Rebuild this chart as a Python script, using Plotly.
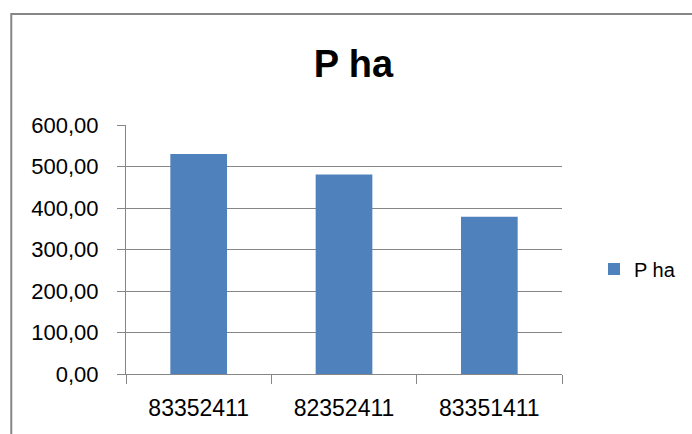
import plotly.graph_objects as go

# Series data
categories = ["83352411", "82352411", "83351411"]
p_ha = [530, 481, 379]
series_name = "P ha"
y_ticks = [0, 100, 200, 300, 400, 500, 600]
y_tick_labels = ["0,00", "100,00", "200,00", "300,00", "400,00", "500,00", "600,00"]

W, H = 692, 434
ML, MR, MT, MB = 126, 129, 125, 60
plot_w = W - ML - MR
plot_h = H - MT - MB

GRID = "#868686"
BAR = "#4F81BD"
FONT = "Liberation Sans, Arial, sans-serif"

fig = go.Figure(
    go.Bar(
        x=categories,
        y=p_ha,
        name=series_name,
        marker=dict(color=BAR, line=dict(width=0)),
        showlegend=True,
    )
)


def px_x(px):
    return (px - ML) / plot_w


def px_y(py):
    return (H - MB - py) / plot_h


fig.update_layout(
    width=W,
    height=H,
    margin=dict(l=ML, r=MR, t=MT, b=MB),
    paper_bgcolor="white",
    plot_bgcolor="white",
    bargap=0.61,
    title=dict(
        text="<b>P ha</b>",
        font=dict(family=FONT, size=38, color="black"),
        x=361 / W,
        xanchor="center",
        xref="paper",
        yref="container",
        y=1 - 64 / H,
        yanchor="middle",
    ),
    legend=dict(
        x=px_x(594),
        xanchor="left",
        y=px_y(269),
        yanchor="middle",
        font=dict(family=FONT, size=20, color="black"),
        bgcolor="rgba(0,0,0,0)",
    ),
    xaxis=dict(
        type="category",
        showline=True,
        linecolor=GRID,
        linewidth=1,
        ticks="outside",
        tickson="boundaries",
        ticklen=9,
        tickcolor=GRID,
        tickwidth=1,
        showgrid=False,
        tickfont=dict(family=FONT, size=23, color="black"),
        ticklabelstandoff=13,
    ),
    yaxis=dict(
        range=[0, 600],
        tickvals=y_ticks,
        ticktext=y_tick_labels,
        showline=True,
        linecolor=GRID,
        linewidth=1,
        ticks="outside",
        ticklen=8,
        tickcolor=GRID,
        tickwidth=1,
        showgrid=True,
        gridcolor=GRID,
        gridwidth=1,
        zeroline=False,
        tickfont=dict(family=FONT, size=22, color="black"),
        ticklabelstandoff=14,
    ),
    shapes=[
        # chart-area frame (left and top edges visible)
        dict(
            type="rect",
            xref="paper",
            yref="paper",
            x0=px_x(11),
            x1=px_x(720),
            y0=px_y(460),
            y1=px_y(14),
            line=dict(color=GRID, width=2),
            fillcolor="rgba(0,0,0,0)",
            layer="below",
        )
    ],
)

fig.write_html("out.html")
